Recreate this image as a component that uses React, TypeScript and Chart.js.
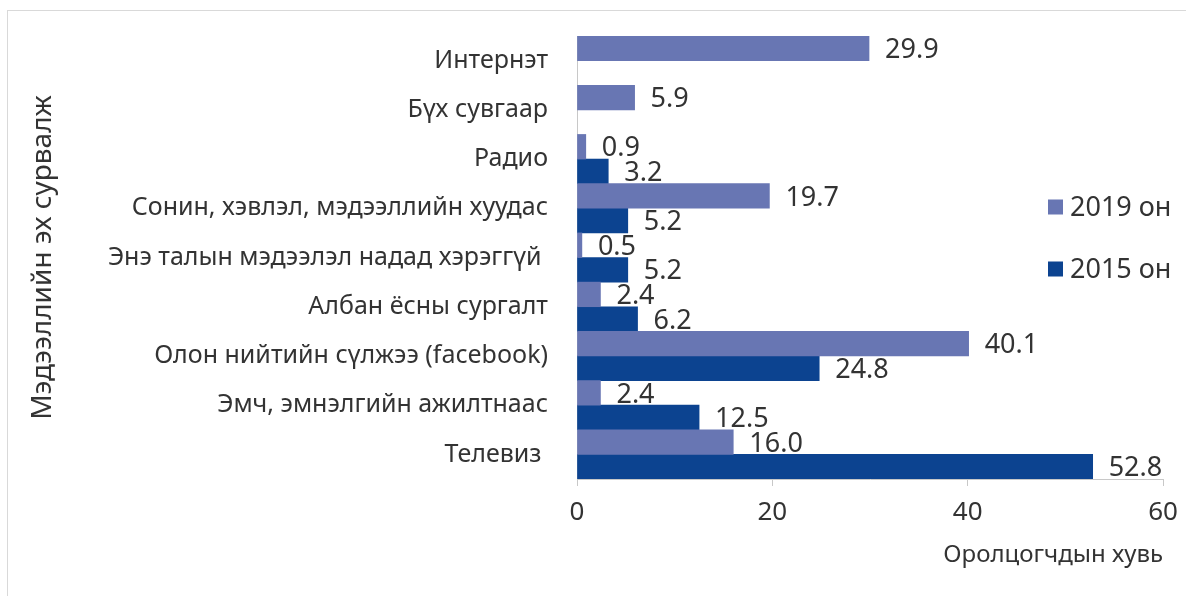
import React, { useEffect, useRef } from "react";
import { Chart, registerables } from "chart.js";

Chart.register(...registerables);

const categories = [
  "Интернэт",
  "Бүх сувгаар",
  "Радио",
  "Сонин, хэвлэл, мэдээллийн хуудас",
  "Энэ талын мэдээлэл надад хэрэггүй ",
  "Албан ёсны сургалт",
  "Олон нийтийн сүлжээ (facebook)",
  "Эмч, эмнэлгийн ажилтнаас",
  "Телевиз ",
];
const values2019: (number | null)[] = [29.9, 5.9, 0.9, 19.7, 0.5, 2.4, 40.1, 2.4, 16.0];
const values2015: (number | null)[] = [null, null, 3.2, 5.2, 5.2, 6.2, 24.8, 12.5, 52.8];
const seriesLabels = ["2019 он", "2015 он"];
const seriesColors = ["#6876b3", "#0c4390"];
const xMin = 0;
const xMax = 60;
const xStep = 20;
const yTitle = "Мэдээллийн эх сурвалж";
const xTitle = "Оролцогчдын хувь";

const FONT = "'Noto Sans', 'Open Sans', sans-serif";
const TEXT = "#333333";
const AXIS = "#c8c8c8";

const labelPlugin = {
  id: "valueLabels",
  afterDatasetsDraw(chart: any) {
    const ctx = chart.ctx;
    ctx.save();
    ctx.font = `27px ${FONT}`;
    ctx.fillStyle = TEXT;
    ctx.textAlign = "left";
    ctx.textBaseline = "middle";
    chart.data.datasets.forEach((ds: any, di: number) => {
      const meta = chart.getDatasetMeta(di);
      meta.data.forEach((el: any, i: number) => {
        const v = ds.data[i];
        if (v === null || v === undefined) return;
        ctx.fillText(Number(v).toFixed(1), el.x + 16, el.y + 2);
      });
    });
    ctx.restore();
  },
};

const legendPlugin = {
  id: "sideLegend",
  afterDraw(chart: any) {
    const ctx = chart.ctx;
    ctx.save();
    ctx.font = `27px ${FONT}`;
    ctx.textAlign = "left";
    ctx.textBaseline = "middle";
    chart.data.datasets.forEach((ds: any, di: number) => {
      const cy = 207 + di * 62;
      ctx.fillStyle = ds.backgroundColor;
      ctx.fillRect(1048, cy - 7.5, 15, 15);
      ctx.fillStyle = TEXT;
      ctx.fillText(ds.label, 1070, cy + 1);
    });
    ctx.restore();
  },
};

export default function App() {
  const ref = useRef<HTMLCanvasElement | null>(null);
  useEffect(() => {
    if (!ref.current) return;
    const chart = new Chart(ref.current, {
      type: "bar",
      data: {
        labels: categories,
        datasets: [
          { label: seriesLabels[0], data: values2019, backgroundColor: seriesColors[0], borderWidth: 0 },
          { label: seriesLabels[1], data: values2015, backgroundColor: seriesColors[1], borderWidth: 0 },
        ],
      },
      options: {
        indexAxis: "y",
        responsive: false,
        animation: false,
        categoryPercentage: 1,
        barPercentage: 1,
        layout: { padding: { left: 20, top: 26, right: 23, bottom: 20 } },
        plugins: { legend: { display: false }, tooltip: { enabled: false } },
        scales: {
          x: {
            min: xMin,
            max: xMax,
            ticks: { stepSize: xStep, color: TEXT, font: { family: FONT, size: 26 }, padding: 11, maxRotation: 0 },
            grid: { display: true, drawOnChartArea: false, drawTicks: true, tickLength: 7, color: AXIS },
            border: { display: true, color: AXIS },
            title: { display: true, text: xTitle, align: "end", color: TEXT, font: { family: FONT, size: 24 }, padding: { top: 0, bottom: 6 } },
            afterFit: (s: any) => { s.height = 596 - 20 - 479; s.paddingRight = 0; s.paddingLeft = 0; },
          },
          y: {
            ticks: { color: TEXT, font: { family: FONT, size: 25 }, padding: 21, autoSkip: false },
            grid: { display: false },
            border: { display: true, color: AXIS },
            title: { display: true, text: yTitle, color: TEXT, font: { family: FONT, size: 28 }, padding: { top: 6, bottom: 0 } },
            afterFit: (s: any) => { s.width = 577 - 20; },
          },
        },
      } as any,
      plugins: [labelPlugin, legendPlugin],
    });
    return () => chart.destroy();
  }, []);
  return (
    <div style={{ position: "absolute", left: 0, top: 0, width: 1186, height: 596, overflow: "hidden", background: "#fff" }}>
      <canvas ref={ref} width={1186} height={596} style={{ position: "absolute", left: 0, top: 0, width: 1186, height: 596 }} />
      <div style={{ position: "absolute", left: 7, top: 10, width: 1200, height: 600, border: "1px solid #d9d9d9", pointerEvents: "none" }} />
    </div>
  );
}
